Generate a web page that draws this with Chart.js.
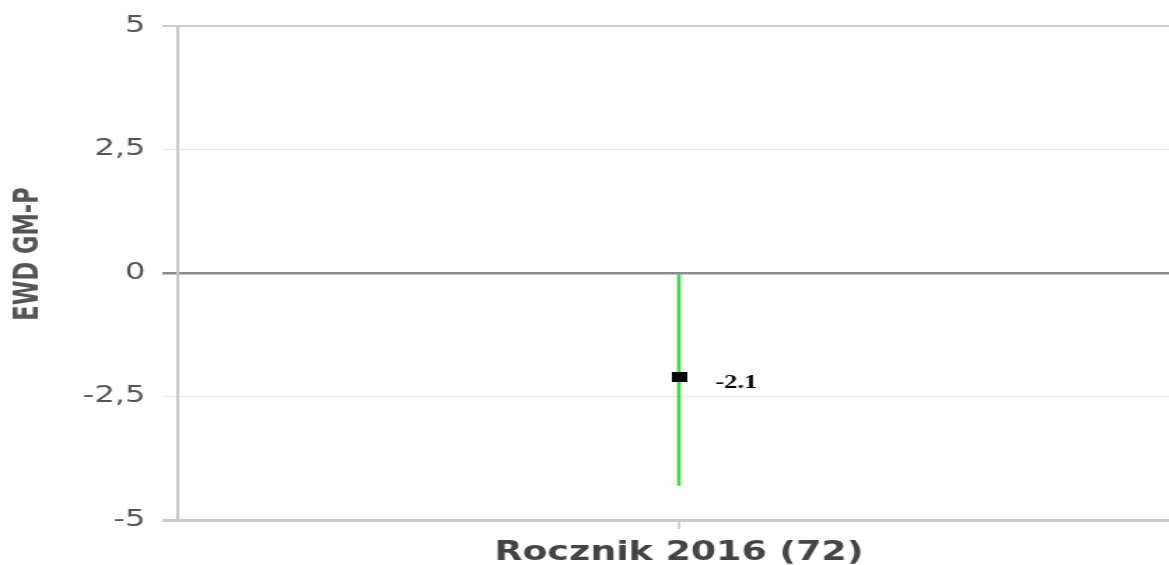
<!DOCTYPE html>
<html>
<head>
<meta charset="utf-8">
<script src="https://cdn.jsdelivr.net/npm/chart.js@4"></script>
<style>
  body { margin: 0; overflow: hidden; background: #fff; }
  #wrap { width: 1169px; height: 565px; overflow: hidden; }
</style>
</head>
<body>
<div id="wrap"><canvas id="chart" width="848" height="565" style="width:1187px;height:565px"></canvas></div>
<script>
const labels = ["Rocznik 2016 (72)"];
const ewd = [-2.1];
const lower = [-4.3];
const upper = [0];
const yTicks = [-5, -2.5, 0, 2.5, 5];
const yTitle = "EWD GM-P";

// small black box used as marker
const box = document.createElement("canvas");
box.width = 11;
box.height = 10;
const bctx = box.getContext("2d");
bctx.fillStyle = "#000";
bctx.fillRect(0, 0, 11, 10);

const valueLabels = {
  id: "valueLabels",
  afterDatasetsDraw(chart) {
    const meta = chart.getDatasetMeta(1);
    const c = chart.ctx;
    c.save();
    c.font = "bold 19px 'Liberation Serif', 'Times New Roman', serif";
    c.fillStyle = "#000";
    c.textAlign = "left";
    c.textBaseline = "middle";
    meta.data.forEach((pt, i) => {
      c.fillText(String(ewd[i]), pt.x + 26, pt.y + 6);
    });
    c.restore();
  }
};

// y axis title, drawn by hand so it sits a bit above the middle like the original
const axisTitle = {
  id: "axisTitle",
  afterDraw(chart) {
    const c = chart.ctx;
    c.save();
    c.translate(20, 254);
    c.rotate(-Math.PI / 2);
    c.font = "bold 25px 'DejaVu Sans Condensed', 'Liberation Sans Narrow', sans-serif";
    c.fillStyle = "#555";
    c.textAlign = "center";
    c.textBaseline = "middle";
    c.fillText(yTitle, 0, 0);
    c.restore();
  }
};

function lineColor(ctx) {
  const v = ctx.tick && ctx.tick.value;
  if (v === 0) return "#8a8a8a";
  if (v === 5 || v === -5) return "#cccccc";
  return "#e6e6e6";
}
function lineWidth(ctx) {
  const v = ctx.tick && ctx.tick.value;
  if (v === 0) return 2.5;
  if (v === -5) return 3;
  if (v === 5) return 2;
  return 1;
}

new Chart(document.getElementById("chart"), {
  data: {
    labels: labels,
    datasets: [
      {
        type: "bar",
        data: lower.map((l, i) => [l, upper[i]]),
        backgroundColor: "#45d945",
        barThickness: 2,
        order: 2
      },
      {
        type: "line",
        data: ewd,
        showLine: false,
        pointStyle: box,
        order: 1
      }
    ]
  },
  options: {
    responsive: false,
    devicePixelRatio: 1,
    animation: false,
    layout: { padding: { top: 26, right: 0, left: 0, bottom: 0 } },
    plugins: {
      legend: { display: false },
      tooltip: { enabled: false }
    },
    scales: {
      x: {
        border: { display: false },
        grid: {
          offset: false,
          drawOnChartArea: false,
          tickLength: 9,
          color: "#d0d0d0",
          lineWidth: 2
        },
        ticks: {
          color: "#444",
          padding: 9,
          font: { family: "'DejaVu Sans', Verdana, sans-serif", size: 26, weight: "bold" }
        },
        afterFit: (scale) => { scale.height = 45; }
      },
      y: {
        min: -5,
        max: 5,
        afterBuildTicks: (scale) => { scale.ticks = yTicks.map(v => ({ value: v })); },
        border: { color: "#c8c8c8", width: 2 },
        grid: {
          color: lineColor,
          lineWidth: lineWidth,
          tickLength: 11
        },
        ticks: {
          color: "#555",
          padding: 12,
          font: { family: "'DejaVu Sans', Verdana, sans-serif", size: 23 },
          callback: (v) => String(v).replace(".", ",")
        },
        afterFit: (scale) => { scale.width = 127; }
      }
    }
  },
  plugins: [valueLabels, axisTitle]
});
</script>
</body>
</html>
